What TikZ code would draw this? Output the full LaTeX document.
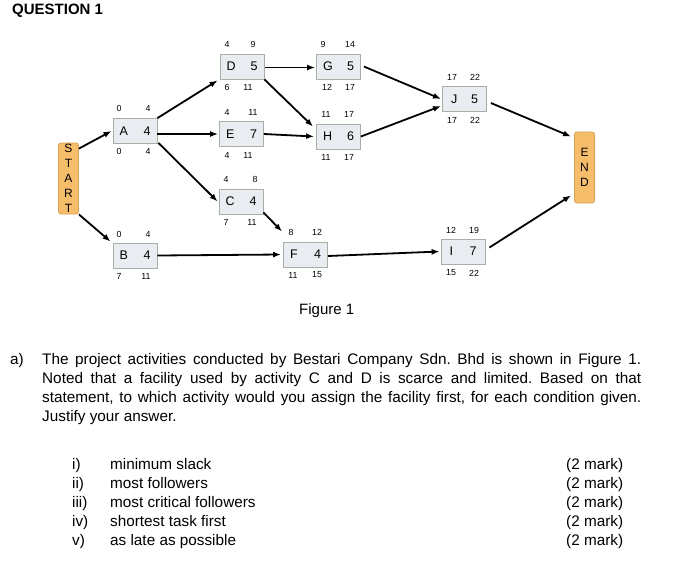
\documentclass[tikz,border=0pt]{standalone}
\usepackage{fontspec}
\setmainfont{Liberation Sans}
\usetikzlibrary{arrows.meta,calc}
\definecolor{boxfill}{RGB}{233,236,240}
\definecolor{boxline}{RGB}{168,175,165}
\definecolor{termfill}{RGB}{246,190,106}
\definecolor{termline}{RGB}{214,160,80}
\newcommand{\actA}[2]{\makebox[31pt]{#1\hfill #2}}
\newcommand{\actB}[2]{\makebox[27pt]{#1\hfill #2}\hspace{3pt}}
\frenchspacing
\begin{document}
\begin{tikzpicture}[x=1pt,y=-1pt,
 act/.style={draw=boxline,fill=boxfill,line width=0.8pt,minimum width=44pt,minimum height=25pt,inner sep=0pt,font=\fontsize{12.5}{14}\selectfont},
 term/.style={draw=termline,fill=termfill,line width=0.8pt,rounded corners=2.5pt,minimum width=20pt,minimum height=71pt,inner sep=0pt,align=center,font=\fontsize{12}{15}\selectfont},
 num/.style={inner sep=0pt,font=\fontsize{8.8}{10}\selectfont},
 arr/.style={line width=1.8pt,-{Latex[length=8pt,width=6pt]}},
 txt/.style={inner sep=0pt,anchor=base west,font=\fontsize{15.3}{19}\selectfont}]
\useasboundingbox[fill=white] (0,0) rectangle (678,571);

% terminals
\node[term] (START) at (68.5,178.5) {S\\T\\A\\R\\T};
\node[term] (END) at (584.5,167.5) {E\\N\\D};

% activities
\node[act] (A) at (135,131) {\actA{A}{4}};
\node[act] (D) at (242,66.5) {\actA{D}{5}};
\node[act] (E) at (241.5,134) {\actA{E}{7}};
\node[act] (G) at (338.5,66.5) {\actA{G}{5}};
\node[act] (H) at (338.5,136.5) {\actA{H}{6}};
\node[act] (J) at (464.5,99) {\actB{J}{5}};
\node[act] (C) at (241,201.5) {\actA{C}{4}};
\node[act] (B) at (135,255.5) {\actA{B}{4}};
\node[act] (F) at (305.5,254.5) {\actA{F}{4}};
\node[act] (I) at (463,251.5) {\actB{I}{7}};

% times
\node[num] (A-tl) at (119,108.5) {0}; \node[num] (A-tr) at (148,108.5) {4};
\node[num] (A-bl) at (119,151) {0};   \node[num] (A-br) at (148,151) {4};
\node[num] (D-tl) at (227,44) {4};    \node[num] (D-tr) at (253,44) {9};
\node[num] (D-bl) at (227,87) {6};    \node[num] (D-br) at (248,87) {11};
\node[num] (E-tl) at (227,112) {4};   \node[num] (E-tr) at (253,112) {11};
\node[num] (E-bl) at (227,155) {4};   \node[num] (E-br) at (248,155) {11};
\node[num] (G-tl) at (323,44) {9};    \node[num] (G-tr) at (350,44) {14};
\node[num] (G-bl) at (327,87) {12};   \node[num] (G-br) at (350,87) {17};
\node[num] (H-tl) at (326,114.5) {11};\node[num] (H-tr) at (349,114.5) {17};
\node[num] (H-bl) at (326,157) {11};  \node[num] (H-br) at (349,157) {17};
\node[num] (J-tl) at (452,77) {17};   \node[num] (J-tr) at (475,77) {22};
\node[num] (J-bl) at (452,120) {17};  \node[num] (J-br) at (475,120) {22};
\node[num] (C-tl) at (226,179) {4};   \node[num] (C-tr) at (255,179) {8};
\node[num] (C-bl) at (226,222) {7};   \node[num] (C-br) at (252,222) {11};
\node[num] (B-tl) at (119,234) {0};   \node[num] (B-tr) at (148,234) {4};
\node[num] (B-bl) at (119,276) {7};   \node[num] (B-br) at (146,276) {11};
\node[num] (F-tl) at (291,232) {8};   \node[num] (F-tr) at (317,232) {12};
\node[num] (F-bl) at (293,275) {11};  \node[num] (F-br) at (317,275) {15};
\node[num] (I-tl) at (451,230) {12};  \node[num] (I-tr) at (474,230) {19};
\node[num] (I-bl) at (451,273) {15};  \node[num] (I-br) at (474,273) {22};

% connectors
\draw[arr] ($(START.north east)+(0,6)$) -- ($(A.west)+(-1,0)$);
\draw[arr] (START.south east) -- ($(B.north west)+(-2,-1)$);
\draw[arr] (A.north east) -- ($(D.south west)+(-2,1)$);
\draw[arr] (A.east |- E.west) -- ($(E.west)+(-1,0)$);
\draw[arr] ($(A.south east)+(1,-1)$) -- ($(C.west)+(-1,0)$);
\draw[arr] ($(D.east)+(1,1)$) -- ($(G.west)+(-1,1)$);
\draw[arr] (D.south east) -- ($(H.north west)+(-3,3)$);
\draw[arr] (E.east) -- ($(H.west)+(-2,0)$);
\draw[arr] ($(G.east)+(3,0)$) -- ($(J.west)+(-1,0)$);
\draw[arr] (H.east) -- ($(J.west)+(-1,7)$);
\draw[arr] ($(C.south east)+(0,-2)$) -- ($(F.north west)+(-1,-10)$);
\draw[arr] (B.east) -- ($(F.west)+(-2,0)$);
\draw[arr] ($(F.east)+(0,1.5)$) -- ($(I.west)+(-1,0)$);
\draw[arr] ($(J.east)+(4,4)$) -- ($(END.north west)+(-3,5)$);
\draw[arr] ($(I.east)+(4,-4)$) -- ($(END.south west)+(-3,-8)$);

% texts
\node[txt,font=\bfseries\fontsize{15}{18}\selectfont] (title) at (12,14) {QUESTION 1};
\node[txt,font=\fontsize{15}{18}\selectfont] (fig) at (299,314.5) {Figure 1};

\node[txt] (qa) at (10,364) {a)};
\node[txt] (p1) at (42,364) {\makebox[599pt][s]{The project activities conducted by Bestari Company Sdn. Bhd is shown in Figure 1.}};
\node[txt] (p2) at (42,383) {\makebox[599pt][s]{Noted that a facility used by activity C and D is scarce and limited. Based on that}};
\node[txt] (p3) at (42,402) {\makebox[599pt][s]{statement, to which activity would you assign the facility first, for each condition given.}};
\node[txt] (p4) at (42,421) {Justify your answer.};

\node[txt] (n1) at (72,469) {i)};   \node[txt] (t1) at (110,469) {minimum slack};           \node[txt] (m1) at (566,469) {(2 mark)};
\node[txt] (n2) at (72,488) {ii)};  \node[txt] (t2) at (110,488) {most followers};          \node[txt] (m2) at (566,488) {(2 mark)};
\node[txt] (n3) at (72,507) {iii)}; \node[txt] (t3) at (110,507) {most critical followers}; \node[txt] (m3) at (566,507) {(2 mark)};
\node[txt] (n4) at (72,526) {iv)};  \node[txt] (t4) at (110,526) {shortest task first};     \node[txt] (m4) at (566,526) {(2 mark)};
\node[txt] (n5) at (72,545) {v)};   \node[txt] (t5) at (110,545) {as late as possible};     \node[txt] (m5) at (566,545) {(2 mark)};
\end{tikzpicture}
\end{document}
